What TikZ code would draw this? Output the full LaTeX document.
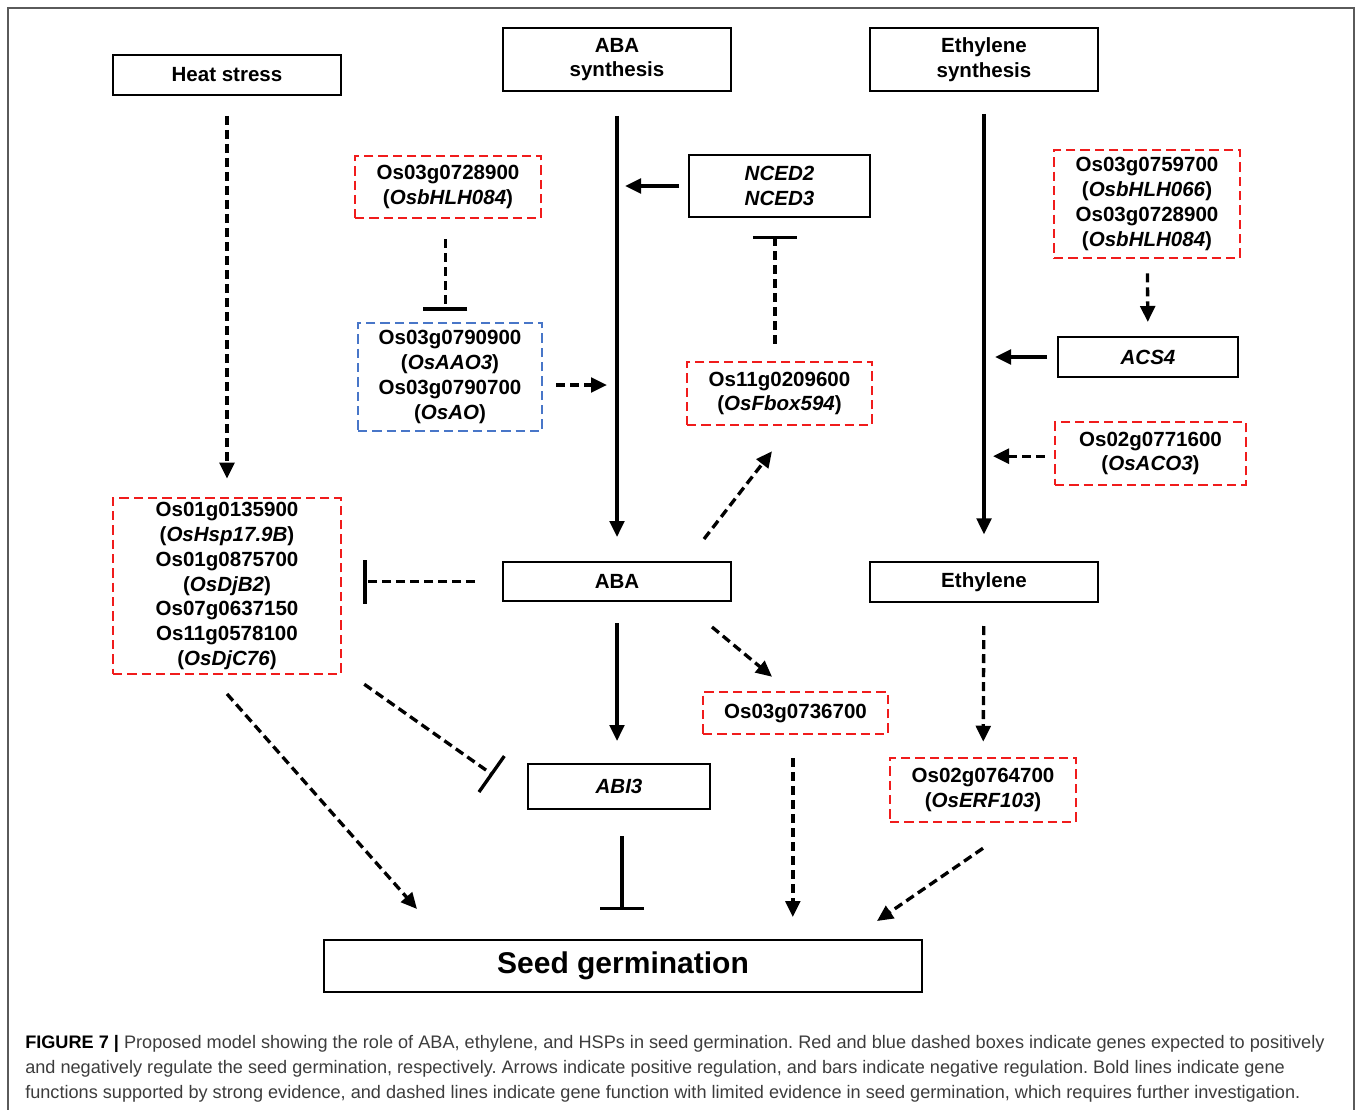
\documentclass[tikz,border=0pt]{standalone}
\usepackage{fontspec}
\setmainfont{Liberation Sans}
\usetikzlibrary{arrows.meta}
\definecolor{boxred}{RGB}{240,28,28}
\definecolor{boxblue}{RGB}{72,118,200}
\definecolor{capgray}{RGB}{60,60,60}
\definecolor{framegray}{RGB}{90,90,90}
\frenchspacing

\begin{document}
\begin{tikzpicture}
    [x=0.75pt,y=-0.75pt,
     gene/.style={font=\fontsize{15.4}{18.6}\selectfont\bfseries,align=center,inner sep=0pt},
     box/.style={gene,draw,line width=1.5pt},
     redbox/.style={gene,draw=boxred,line width=1.9pt,dash pattern=on 7pt off 3.75pt},
     bluebox/.style={gene,draw=boxblue,line width=1.9pt,dash pattern=on 7pt off 3.75pt},
     act/.style={line width=2.5pt,-{Triangle[length=12pt,width=11pt]}},
     dact/.style={act,dash pattern=on 6.75pt off 3.75pt},
     inh/.style={line width=2.5pt,-{Bar[width=33pt]}},
     dinh/.style={inh,dash pattern=on 6.75pt off 3.75pt},
     capline/.style={anchor=base west,inner sep=0pt,text=capgray,font=\fontsize{13.6}{15}\selectfont}]
    \useasboundingbox (0,0) rectangle (1358,1109);
    \draw[framegray,line width=1.1pt] (8,1120) |- (1354,8) -- (1354,1120);

    % top row
    \node[box,minimum width=171pt,minimum height=30pt] (heat) at (227,75) {Heat stress};
    \node[box,minimum width=171pt,minimum height=47.25pt] (abasyn) at (617,59.5) {ABA\\synthesis};
    \node[box,minimum width=171pt,minimum height=47.25pt] (ethsyn) at (984,59.5) {Ethylene\\synthesis};

    % ABA side
    \node[redbox,minimum width=139.5pt,minimum height=46.5pt] (bhlh) at (448,187) {Os03g0728900\\(\textit{OsbHLH084})};
    \node[bluebox,minimum width=138pt,minimum height=81pt] (aao) at (450,377) {Os03g0790900\\(\textit{OsAAO3})\\Os03g0790700\\(\textit{OsAO})};
    \node[box,minimum width=135.75pt,minimum height=46.5pt] (nced) at (779.5,186) {\textit{NCED2}\\\textit{NCED3}};
    \node[redbox,minimum width=138.75pt,minimum height=47.25pt] (fbox) at (779.5,393.5) {Os11g0209600\\(\textit{OsFbox594})};

    % ethylene side
    \node[redbox,minimum width=139.5pt,minimum height=81pt] (bhlhb) at (1147,204) {Os03g0759700\\(\textit{OsbHLH066})\\Os03g0728900\\(\textit{OsbHLH084})};
    \node[box,minimum width=135pt,minimum height=30pt] (acs) at (1148,357) {\textit{ACS4}};
    \node[redbox,minimum width=143.25pt,minimum height=47.25pt] (aco) at (1150.5,453.5) {Os02g0771600\\(\textit{OsACO3})};

    % middle row
    \node[redbox,minimum width=171pt,minimum height=132pt] (hsp) at (227,586) {Os01g0135900\\(\textit{OsHsp17.9B})\\Os01g0875700\\(\textit{OsDjB2})\\Os07g0637150\\Os11g0578100\\(\textit{OsDjC76})};
    \node[box,minimum width=171pt,minimum height=29.25pt] (aba) at (617,581.5) {ABA};
    \node[box,minimum width=171pt,minimum height=30pt] (eth) at (984,582) {Ethylene};
    \node[box,minimum width=136.5pt,minimum height=33.75pt] (abi) at (619,786.5) {\textit{ABI3}};
    \node[redbox,minimum width=138.75pt,minimum height=31.5pt] (osb) at (795.5,713) {Os03g0736700};
    \node[redbox,minimum width=139.5pt,minimum height=48pt] (erf) at (983,790) {Os02g0764700\\(\textit{OsERF103})};
    \node[box,minimum width=448.5pt,minimum height=39pt,font=\fontsize{22.5}{27}\selectfont\bfseries] (seed) at (623,966) {Seed germination};

    % connectors
    \draw[dact,shorten <=15pt,shorten >=13.5pt] (heat) -- (hsp);
    \draw[act,shorten <=18pt,shorten >=18pt] (abasyn) -- (aba);
    \draw[act,shorten <=16.5pt,shorten >=20pt] (ethsyn) -- (eth);
    \draw[act,shorten <=6.75pt,shorten >=6pt] (nced.west) -- (nced.west -| abasyn);
    \draw[dinh,shorten <=15pt,shorten >=8.25pt] ([xshift=-2pt]bhlh.south) -- ([xshift=-2pt]bhlh.south |- aao.north);
    \draw[dact,shorten <=9.75pt,shorten >=7.5pt] ([yshift=-6pt]aao.east) -- ([yshift=-6pt]aao.east -| abasyn);
    \draw[dinh,shorten <=12.75pt,shorten >=13.5pt] ([xshift=-3.4pt]fbox.north) -- ([xshift=-3.4pt]fbox.north |- nced.south);
    \draw[dact] ([shift={(87,-22)}]aba.north) -- ([shift={(-7.5,25)}]fbox.south);
    \draw[dact,shorten <=10.5pt,shorten >=10.5pt] (bhlhb) -- (acs);
    \draw[act,shorten <=7.5pt,shorten >=8.25pt] (acs.west) -- (acs.west -| ethsyn);
    \draw[dact,shorten <=6.75pt,shorten >=6.75pt] ([yshift=-2pt]aco.west) -- ([yshift=-2pt]aco.west -| ethsyn);
    \draw[dinh,shorten <=20.25pt,shorten >=15.75pt] (aba.west) -- (aba.west -| hsp.east);
    \draw[act,shorten <=15.75pt,shorten >=16.5pt] (aba.south) -- (aba.south |- abi.north);
    \draw[dact] ([shift={(95,25)}]aba.south) -- ([shift={(-23.5,-14)}]osb.north);
    \draw[dinh] ([shift={(22,9)}]hsp.south east) -- ([shift={(-34,-11.5)}]abi.west);
    \draw[dact,shorten <=17.25pt,shorten >=11.25pt] (eth) -- (erf);
    \draw[dact] ([yshift=-14pt]hsp.south) -- ([shift={(94,-30)}]seed.north west);
    \draw[inh,shorten <=19.5pt,shorten >=21.75pt] ([xshift=2.25pt]abi.south) -- ([xshift=2.25pt]abi.south |- seed.north);
    \draw[dact,shorten <=17.25pt,shorten >=16.5pt] ([xshift=-2pt]osb.south) -- ([xshift=-2pt]osb.south |- seed.north);
    \draw[dact] ([yshift=-18.75pt]erf.south) -- ([shift={(-46,-18)}]seed.north east);

    % caption
    \node[capline] (cap1) at (25,1048) {\textbf{\color{black}FIGURE 7 |} Proposed model showing the role of ABA, ethylene, and HSPs in seed germination. Red and blue dashed boxes indicate genes expected to positively};
    \node[capline] (cap2) at (25,1073) {and negatively regulate the seed germination, respectively. Arrows indicate positive regulation, and bars indicate negative regulation. Bold lines indicate gene};
    \node[capline] (cap3) at (25,1098) {functions supported by strong evidence, and dashed lines indicate gene function with limited evidence in seed germination, which requires further investigation.};
  \end{tikzpicture}
\end{document}
